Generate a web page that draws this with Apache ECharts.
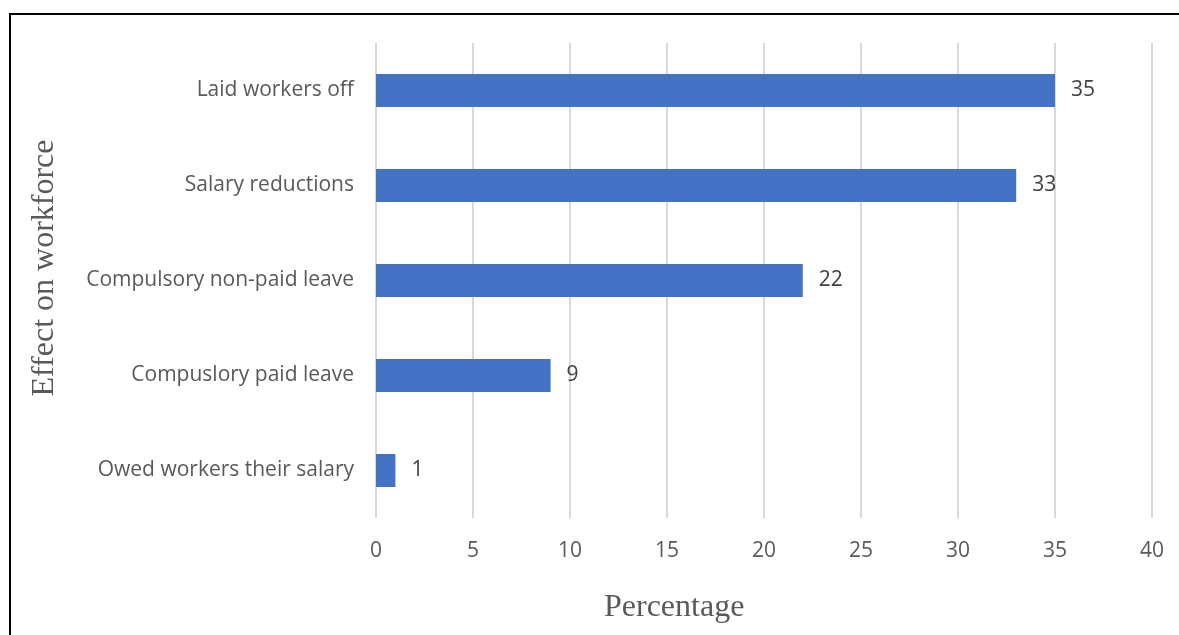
<!DOCTYPE html>
<html>
<head>
<meta charset="utf-8">
<script src="https://cdn.jsdelivr.net/npm/echarts@6/dist/echarts.min.js"></script>
<style>
  html, body { margin: 0; padding: 0; background: #fff; }
  #frame { position: absolute; left: 9px; top: 13px; width: 1200px; height: 700px;
           border-left: 2px solid #000; border-top: 2px solid #000; box-sizing: border-box; }
  #chart { position: absolute; left: 0; top: 0; width: 1179px; height: 635px; }
</style>
</head>
<body>
<div id="frame"></div>
<div id="chart"></div>
<script>
// Effects reported on the workforce, as a share of respondents
const categories = [
  'Owed workers their salary',
  'Compuslory paid leave',
  'Compulsory non-paid leave',
  'Salary reductions',
  'Laid workers off'
];
const values = [1, 9, 22, 33, 35];
const xTicks = [0, 5, 10, 15, 20, 25, 30, 35, 40];
const xTitle = 'Percentage';
const yTitle = 'Effect on workforce';

const chart = echarts.init(document.getElementById('chart'), null, { renderer: 'canvas' });
const labelFont = 'Open Sans, sans-serif';
const titleFont = 'Liberation Serif, Times New Roman, serif';
chart.setOption({
  animation: false,
  grid: { left: 376, right: 27, top: 43, bottom: 117, containLabel: false },
  xAxis: {
    type: 'value',
    min: xTicks[0],
    max: xTicks[xTicks.length - 1],
    interval: 5,
    axisLine: { show: false },
    axisTick: { show: false },
    axisLabel: { color: '#595959', fontFamily: labelFont, fontSize: 21, margin: 23 },
    splitLine: { show: true, lineStyle: { color: '#d9d9d9', width: 2 } }
  },
  yAxis: {
    type: 'category',
    data: categories,
    axisLine: { show: false },
    axisTick: { show: false },
    axisLabel: { color: '#595959', fontFamily: labelFont, fontSize: 21, margin: 22 },
    splitLine: { show: false }
  },
  graphic: [
    {
      type: 'text',
      left: 604,
      top: 592,
      style: { text: xTitle, font: '32px ' + titleFont, fill: '#595959' }
    },
    {
      type: 'text',
      x: 45,
      y: 268,
      rotation: Math.PI / 2,
      style: {
        text: yTitle, font: '32px ' + titleFont, fill: '#595959',
        align: 'center', verticalAlign: 'middle'
      }
    }
  ],
  series: [{
    type: 'bar',
    data: values,
    barWidth: 33,
    itemStyle: { color: '#4472c4' },
    label: {
      show: true,
      position: 'right',
      distance: 16,
      color: '#404040',
      fontFamily: labelFont,
      fontSize: 21
    }
  }]
});
</script>
</body>
</html>
